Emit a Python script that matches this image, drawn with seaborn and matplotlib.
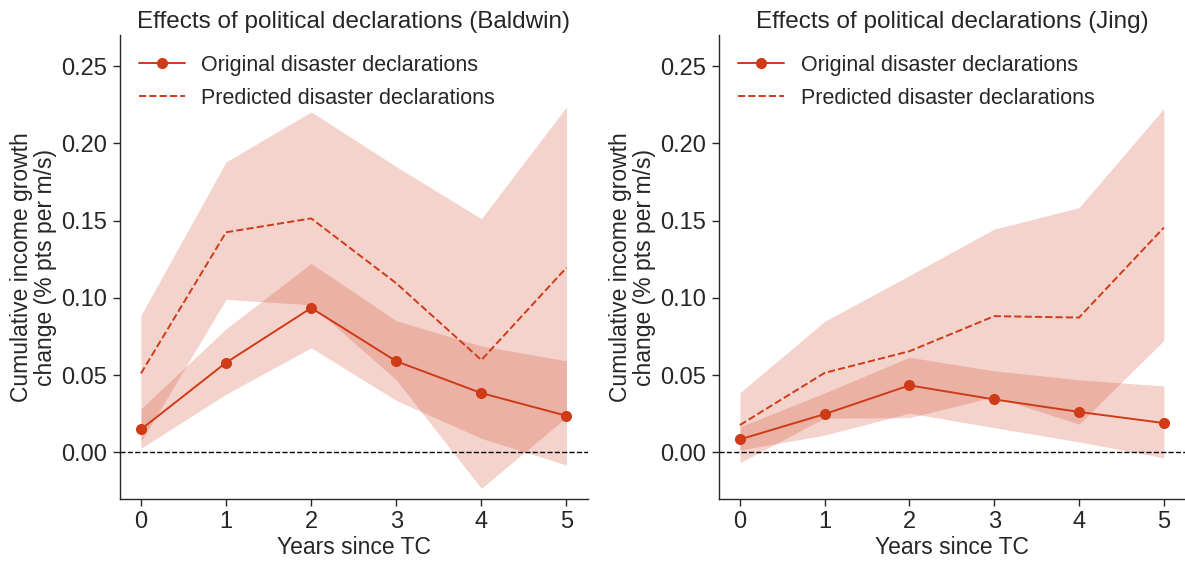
import numpy as np
import pandas as pd
import matplotlib
matplotlib.use("Agg")
import matplotlib.pyplot as plt
import seaborn as sns

# Years since tropical cyclone
years = [0, 1, 2, 3, 4, 5]

# Baldwin declarations
baldwin_orig = [0.0149, 0.0581, 0.0935, 0.0590, 0.0384, 0.0237]
baldwin_orig_lo = [0.0026, 0.0377, 0.0677, 0.0336, 0.0091, -0.0082]
baldwin_orig_hi = [0.0282, 0.0800, 0.1224, 0.0852, 0.0689, 0.0593]
baldwin_pred = [0.0511, 0.1425, 0.1515, 0.1095, 0.0598, 0.1196]
baldwin_pred_lo = [0.0069, 0.0991, 0.0955, 0.0469, -0.0233, 0.0227]
baldwin_pred_hi = [0.0888, 0.1880, 0.2205, 0.1850, 0.1513, 0.2237]

# Jing declarations
jing_orig = [0.0084, 0.0248, 0.0434, 0.0343, 0.0262, 0.0190]
jing_orig_lo = [0.0015, 0.0112, 0.0254, 0.0160, 0.0068, -0.0035]
jing_orig_hi = [0.0166, 0.0385, 0.0616, 0.0528, 0.0470, 0.0430]
jing_pred = [0.0177, 0.0515, 0.0655, 0.0882, 0.0873, 0.1455]
jing_pred_lo = [-0.0067, 0.0222, 0.0225, 0.0360, 0.0183, 0.0724]
jing_pred_hi = [0.0386, 0.0849, 0.1145, 0.1446, 0.1584, 0.2226]

titles = ["Effects of political declarations (Baldwin)",
          "Effects of political declarations (Jing)"]
series_labels = ["Original disaster declarations", "Predicted disaster declarations"]
yticks = [0.00, 0.05, 0.10, 0.15, 0.20, 0.25]

sns.set_style("ticks")
plt.rcParams["font.family"] = ["Liberation Sans", "DejaVu Sans"]
plt.rcParams["axes.linewidth"] = 1.0

RED = "#cf3a17"
BAND_ALPHA = 0.22

fig = plt.figure(figsize=(11.85, 5.61), dpi=100)
ax_left = fig.add_axes([0.101, 0.111, 0.395, 0.826])
ax_right = fig.add_axes([0.6065, 0.111, 0.3935, 0.826])

panels = [
    (ax_left, baldwin_orig, baldwin_orig_lo, baldwin_orig_hi,
     baldwin_pred, baldwin_pred_lo, baldwin_pred_hi, titles[0]),
    (ax_right, jing_orig, jing_orig_lo, jing_orig_hi,
     jing_pred, jing_pred_lo, jing_pred_hi, titles[1]),
]

for ax, o, olo, ohi, p, plo, phi, title in panels:
    df = pd.DataFrame({
        "year": years * 2,
        "effect": o + p,
        "series": [series_labels[0]] * len(years) + [series_labels[1]] * len(years),
    })
    ax.fill_between(years, olo, ohi, color=RED, alpha=BAND_ALPHA, linewidth=0)
    ax.fill_between(years, plo, phi, color=RED, alpha=BAND_ALPHA, linewidth=0)
    ax.axhline(0, color="black", linestyle="--", linewidth=1.0, zorder=1)
    sns.lineplot(data=df[df.series == series_labels[0]], x="year", y="effect",
                 ax=ax, color=RED, linewidth=1.4, marker="o", markersize=8,
                 markeredgewidth=0, label=series_labels[0], zorder=3)
    sns.lineplot(data=df[df.series == series_labels[1]], x="year", y="effect",
                 ax=ax, color=RED, linewidth=1.4, linestyle="--",
                 label=series_labels[1], zorder=3)

    ax.set_xlim(-0.25, 5.25)
    ax.set_ylim(-0.03, 0.27)
    ax.set_xticks(years)
    ax.set_yticks(yticks)
    ax.set_yticklabels([f"{v:.2f}" for v in yticks])
    ax.tick_params(labelsize=17, length=5, width=1.0, pad=4)
    ax.set_xlabel("Years since TC", fontsize=16.5, labelpad=2)
    ax.set_ylabel("Cumulative income growth\nchange (% pts per m/s)",
                  fontsize=16.5, labelpad=3, linespacing=1.05)
    ax.set_title(title, fontsize=17.5, pad=5.5)
    sns.despine(ax=ax)
    leg = ax.legend(loc="upper left", frameon=False, fontsize=15.5,
                    handlelength=2.15, handletextpad=0.75,
                    bbox_to_anchor=(0.0, 1.0),
                    borderaxespad=0.5, labelspacing=0.55)

fig.savefig("out.png", dpi=100)
